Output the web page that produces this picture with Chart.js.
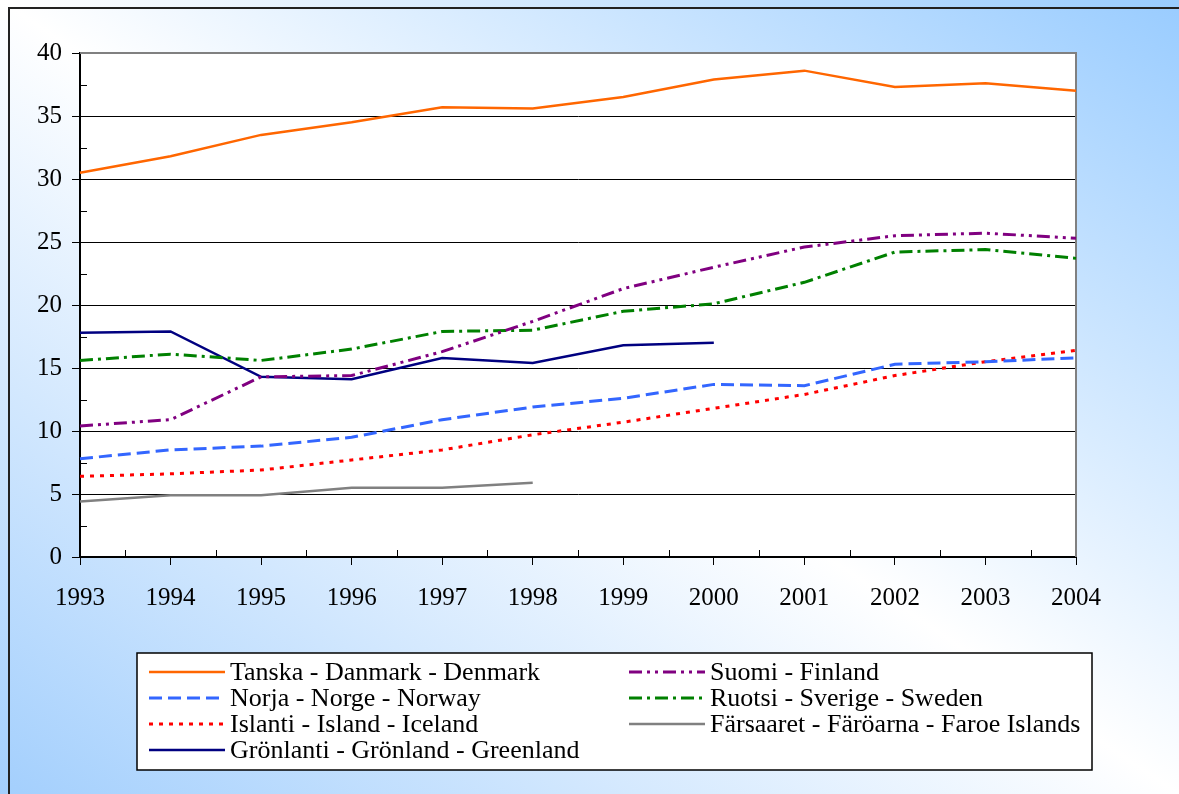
<!DOCTYPE html>
<html>
<head>
<meta charset="utf-8">
<script src="https://cdn.jsdelivr.net/npm/chart.js@4/dist/chart.umd.min.js"></script>
<style>
  html, body { margin: 0; padding: 0; }
  body {
    width: 1179px; height: 794px; overflow: hidden; position: relative;
    background: linear-gradient(to bottom left, #99ccff 0%, #ffffff 50%, #a3cffd 100%);
  }
  #frame {
    position: absolute; left: 8px; top: 7px; right: -10px; bottom: -10px;
    border-left: 2px solid #222; border-top: 2px solid #222;
  }
  canvas { position: absolute; left: 0; top: 0; }
</style>
</head>
<body>
<div id="frame"></div>
<canvas id="lineChart" width="1179" height="794"></canvas>
<script>
  // years on the x axis
  const years = ["1993", "1994", "1995", "1996", "1997", "1998", "1999", "2000", "2001", "2002", "2003", "2004"];

  // series values
  const denmark   = [30.5, 31.8, 33.5, 34.5, 35.7, 35.6, 36.5, 37.9, 38.6, 37.3, 37.6, 37.0];
  const finland   = [10.4, 10.9, 14.3, 14.4, 16.3, 18.7, 21.3, 23.0, 24.6, 25.5, 25.7, 25.3];
  const norway    = [7.8, 8.5, 8.8, 9.5, 10.9, 11.9, 12.6, 13.7, 13.6, 15.3, 15.5, 15.8];
  const sweden    = [15.6, 16.1, 15.6, 16.5, 17.9, 18.0, 19.5, 20.1, 21.8, 24.2, 24.4, 23.7];
  const iceland   = [6.4, 6.6, 6.9, 7.7, 8.5, 9.7, 10.7, 11.8, 12.9, 14.4, 15.5, 16.4];
  const faroe     = [4.4, 4.9, 4.9, 5.5, 5.5, 5.9, null, null, null, null, null, null];
  const greenland = [17.8, 17.9, 14.3, 14.1, 15.8, 15.4, 16.8, 17.0, null, null, null, null];

  const seriesNames = [
    "Tanska - Danmark - Denmark",
    "Suomi - Finland",
    "Norja - Norge - Norway",
    "Ruotsi - Sverige - Sweden",
    "Islanti - Island - Iceland",
    "Färsaaret - Färöarna - Faroe Islands",
    "Grönlanti - Grönland - Greenland"
  ];

  const yTicks = [0, 5, 10, 15, 20, 25, 30, 35, 40];

  const serif = "'Liberation Serif', 'Times New Roman', serif";

  // white plot area + gray top/right border
  const plotArea = {
    id: "plotArea",
    beforeDraw(chart) {
      const a = chart.chartArea, ctx = chart.ctx;
      ctx.save();
      ctx.fillStyle = "#fff";
      ctx.fillRect(a.left, a.top, a.right - a.left, a.bottom - a.top);
      ctx.restore();
    },
    beforeDatasetsDraw(chart) {
      const a = chart.chartArea, ctx = chart.ctx;
      ctx.save();
      ctx.strokeStyle = "#808080";
      ctx.lineWidth = 2;
      ctx.beginPath();
      ctx.moveTo(a.left, a.top);
      ctx.lineTo(a.right, a.top);
      ctx.lineTo(a.right, a.bottom);
      ctx.stroke();
      // minor ticks
      ctx.strokeStyle = "#000";
      ctx.lineWidth = 1;
      const xs = chart.scales.x, ys = chart.scales.y;
      for (let i = 0; i < years.length - 1; i++) {
        const px = Math.round((xs.getPixelForValue(i) + xs.getPixelForValue(i + 1)) / 2) + 0.5;
        ctx.beginPath();
        ctx.moveTo(px, a.bottom);
        ctx.lineTo(px, a.bottom - 7);
        ctx.stroke();
      }
      for (let i = 0; i < yTicks.length - 1; i++) {
        const py = Math.round(ys.getPixelForValue(yTicks[i] + 2.5)) + 0.5;
        ctx.beginPath();
        ctx.moveTo(a.left, py);
        ctx.lineTo(a.left + 7, py);
        ctx.stroke();
      }
      ctx.restore();
    }
  };

  // two column boxed legend under the plot
  const boxLegend = {
    id: "boxLegend",
    afterDraw(chart) {
      const ctx = chart.ctx;
      ctx.save();
      ctx.fillStyle = "#fff";
      ctx.fillRect(137, 653, 955, 117);
      ctx.strokeStyle = "#000";
      ctx.lineWidth = 1.5;
      ctx.strokeRect(137, 653, 955, 117);
      ctx.font = "26px " + serif;
      ctx.textBaseline = "middle";
      chart.data.datasets.forEach((ds, i) => {
        const col = i % 2, row = Math.floor(i / 2);
        const x0 = col ? 629 : 149;
        const y = 672 + row * 26;
        ctx.strokeStyle = ds.borderColor;
        ctx.lineWidth = ds.borderWidth;
        ctx.setLineDash(ds.borderDash || []);
        ctx.beginPath();
        ctx.moveTo(x0, y);
        ctx.lineTo(x0 + 76, y);
        ctx.stroke();
        ctx.setLineDash([]);
        ctx.fillStyle = "#000";
        ctx.fillText(ds.label, x0 + 81, y + 1);
      });
      ctx.restore();
    }
  };

  new Chart(document.getElementById("lineChart"), {
    type: "line",
    data: {
      labels: years,
      datasets: [
        { label: seriesNames[0], data: denmark, borderColor: "#ff6600", borderWidth: 2.5, borderDash: [] },
        { label: seriesNames[1], data: finland, borderColor: "#800080", borderWidth: 3, borderDash: [13, 5, 3, 5, 3, 5] },
        { label: seriesNames[2], data: norway, borderColor: "#3366ff", borderWidth: 3, borderDash: [13, 6] },
        { label: seriesNames[3], data: sweden, borderColor: "#008000", borderWidth: 3, borderDash: [13, 5, 3, 5] },
        { label: seriesNames[4], data: iceland, borderColor: "#ff0000", borderWidth: 3, borderDash: [4, 6] },
        { label: seriesNames[5], data: faroe, borderColor: "#808080", borderWidth: 2.5, borderDash: [] },
        { label: seriesNames[6], data: greenland, borderColor: "#000080", borderWidth: 2.5, borderDash: [] }
      ]
    },
    options: {
      responsive: false,
      animation: false,
      devicePixelRatio: 1,
      layout: { padding: { left: 0, top: 53, right: 103, bottom: 177 } },
      elements: {
        point: { radius: 0 },
        line: { tension: 0, fill: false }
      },
      plugins: {
        legend: { display: false },
        tooltip: { enabled: false }
      },
      scales: {
        x: {
          offset: false,
          afterFit(scale) { scale.height = 60; },
          grid: { display: true, drawOnChartArea: false, drawTicks: true, tickLength: 8, color: "#000", lineWidth: 1 },
          border: { display: true, color: "#000", width: 2 },
          ticks: { color: "#000", font: { family: serif, size: 25 }, padding: 18, maxRotation: 0, autoSkip: false }
        },
        y: {
          min: 0,
          max: 40,
          afterFit(scale) { scale.width = 80; },
          grid: {
            color: ctx => (ctx.tick && ctx.tick.value === 40 ? "rgba(0,0,0,0)" : "#000"),
            lineWidth: 1,
            tickLength: 8,
            tickColor: "#000"
          },
          border: { display: true, color: "#000", width: 2 },
          ticks: { stepSize: 5, color: "#000", font: { family: serif, size: 25 }, padding: 10 }
        }
      }
    },
    plugins: [plotArea, boxLegend]
  });
</script>
</body>
</html>
